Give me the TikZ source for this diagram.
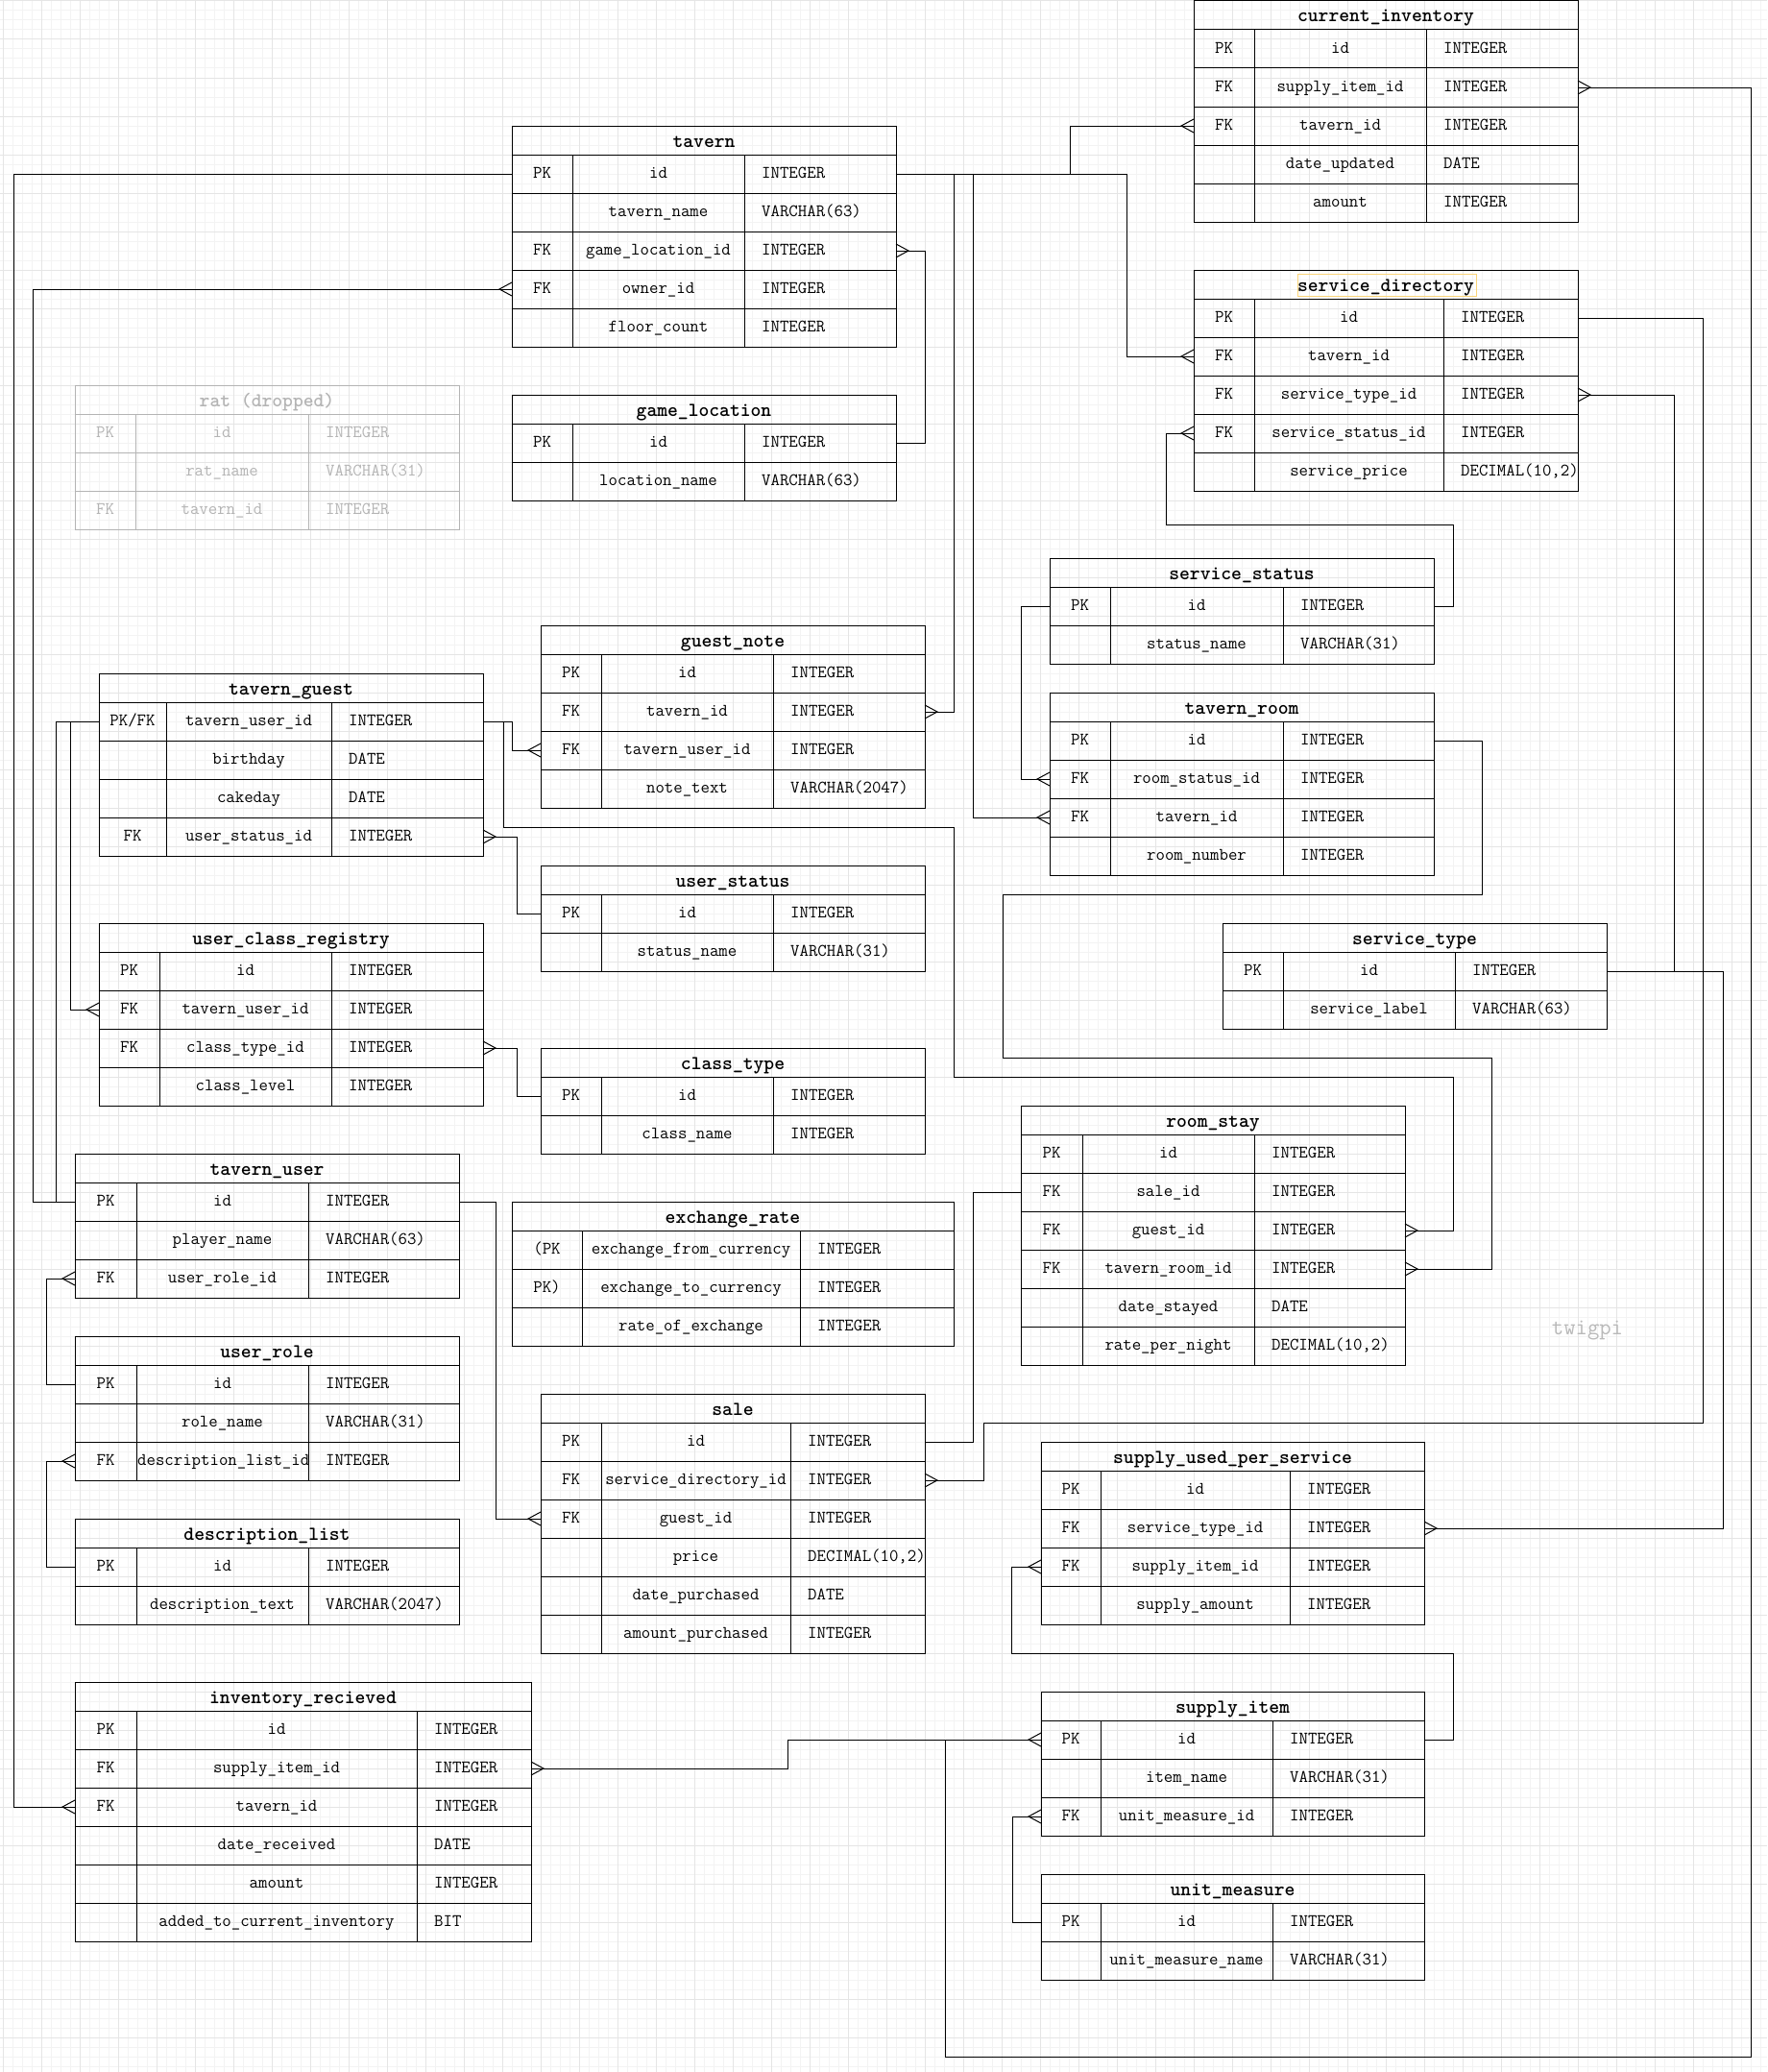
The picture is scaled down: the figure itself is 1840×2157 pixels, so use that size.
\documentclass[tikz,border=0pt]{standalone}
\usetikzlibrary{calc}

\definecolor{gridminor}{RGB}{243,243,243}
\definecolor{gridmajor}{RGB}{229,229,229}
\definecolor{ratgrey}{RGB}{180,180,180}
\definecolor{signgrey}{RGB}{185,185,185}
\definecolor{hilite}{RGB}{250,212,120}
\colorlet{tblc}{black}

\newcommand\bodyfont{\ttfamily\fontsize{18.3}{20}\selectfont}
\newcommand\titlefont{\ttfamily\bfseries\fontsize{20.6}{22}\selectfont}
\newcommand\pkopen{(PK}
\newcommand\pkclose{PK)}

\tikzset{
  tblline/.style={draw=tblc, line width=1pt},
  cell/.style={anchor=base, inner sep=0pt, text=tblc, font=\bodyfont},
  tabletitle/.style={anchor=base, inner sep=0pt, text=tblc, font=\titlefont},
  conn/.style={draw=black, line width=1pt},
  gmin/.style={draw=gridminor, line width=1pt},
  gmaj/.style={draw=gridmajor, line width=1pt},
}

% entity table: name, x0, x1, x2, x3 (column borders), top, title, rows key/name/type
\newcommand\ertable[8]{%
  \node[tabletitle] (#1) at ({(#2+#5)/2},#6+22) {#7};
  \draw[tblline] (#2,#6) rectangle (#5,#6+30);
  \foreach \colK/\colN/\colT [count=\ri] in {#8} {%
    \pgfmathsetmacro\rowtop{#6+30+40*(\ri-1)}%
    \pgfmathsetmacro\rowmid{\rowtop+20}%
    \draw[tblline] (#2,\rowtop) rectangle (#5,\rowtop+40);
    \draw[tblline] (#3,\rowtop) -- (#3,\rowtop+40) (#4,\rowtop) -- (#4,\rowtop+40);
    \node[cell] at ({(#2+#3)/2},\rowmid+4.5) {\colK};
    \node[cell] at ({(#3+#4)/2},\rowmid+4.5) {\colN};
    \node[cell,anchor=base west] at (#4+18,\rowmid+4.5) {\colT};
    \coordinate (#1-\ri-w) at (#2,\rowmid);
    \coordinate (#1-\ri-e) at (#5,\rowmid);
  }%
}

% crow's foot (many) at the left / right side of a table row
\newcommand\cfl[1]{\draw[conn] ($(#1)+(0,-7)$) -- ($(#1)+(-13,0)$) -- ($(#1)+(0,7)$);}
\newcommand\cfr[1]{\draw[conn] ($(#1)+(0,-7)$) -- ($(#1)+(13,0)$) -- ($(#1)+(0,7)$);}

\begin{document}
\begin{tikzpicture}[x=1pt,y=-1pt]
\useasboundingbox (0,0) rectangle (1840,2157);
\fill[white] (0,0) rectangle (1840,2157);

% background grid
\foreach \gx in {3,13,...,1833} \draw[gmin] (\gx,0) -- (\gx,2157);
\foreach \gy in {1,11,...,2151} \draw[gmin] (0,\gy) -- (1840,\gy);
\foreach \gx in {3,43,...,1803} \draw[gmaj] (\gx,0) -- (\gx,2157);
\foreach \gy in {1,41,...,2121} \draw[gmaj] (0,\gy) -- (1840,\gy);

% ---------------- tables ----------------
\ertable{ci}{1243}{1306}{1485}{1643}{1}{current\_inventory}{PK/id/INTEGER, FK/supply\_item\_id/INTEGER, FK/tavern\_id/INTEGER, {}/date\_updated/DATE, {}/amount/INTEGER}

\ertable{tavern}{533}{596}{775}{933}{131}{tavern}{PK/id/INTEGER, {}/tavern\_name/VARCHAR(63), FK/game\_location\_id/INTEGER, FK/owner\_id/INTEGER, {}/floor\_count/INTEGER}

\ertable{sd}{1243}{1306}{1503}{1643}{281}{service\_directory}{PK/id/INTEGER, FK/tavern\_id/INTEGER, FK/service\_type\_id/INTEGER, FK/service\_status\_id/INTEGER, {}/service\_price/{DECIMAL(10,2)}}
\draw[draw=hilite, line width=1pt] (1351,285) rectangle (1537,308);

\begingroup
\colorlet{tblc}{ratgrey}
\ertable{rat}{78}{141}{321}{478}{401}{rat (dropped)}{PK/id/INTEGER, {}/rat\_name/VARCHAR(31), FK/tavern\_id/INTEGER}
\endgroup

\ertable{gl}{533}{596}{775}{933}{411}{game\_location}{PK/id/INTEGER, {}/location\_name/VARCHAR(63)}

\ertable{ss}{1093}{1156}{1336}{1493}{581}{service\_status}{PK/id/INTEGER, {}/status\_name/VARCHAR(31)}

\ertable{gn}{563}{626}{805}{963}{651}{guest\_note}{PK/id/INTEGER, FK/tavern\_id/INTEGER, FK/tavern\_user\_id/INTEGER, {}/note\_text/VARCHAR(2047)}

\ertable{tg}{103}{173}{345}{503}{701}{tavern\_guest}{{PK/FK}/tavern\_user\_id/INTEGER, {}/birthday/DATE, {}/cakeday/DATE, FK/user\_status\_id/INTEGER}

\ertable{tr}{1093}{1156}{1336}{1493}{721}{tavern\_room}{PK/id/INTEGER, FK/room\_status\_id/INTEGER, FK/tavern\_id/INTEGER, {}/room\_number/INTEGER}

\ertable{us}{563}{626}{805}{963}{901}{user\_status}{PK/id/INTEGER, {}/status\_name/VARCHAR(31)}

\ertable{ucr}{103}{166}{345}{503}{961}{user\_class\_registry}{PK/id/INTEGER, FK/tavern\_user\_id/INTEGER, FK/class\_type\_id/INTEGER, {}/class\_level/INTEGER}

\ertable{st}{1273}{1336}{1515}{1673}{961}{service\_type}{PK/id/INTEGER, {}/service\_label/VARCHAR(63)}

\ertable{ct}{563}{626}{805}{963}{1091}{class\_type}{PK/id/INTEGER, {}/class\_name/INTEGER}

\ertable{rs}{1063}{1127}{1306}{1463}{1151}{room\_stay}{PK/id/INTEGER, FK/sale\_id/INTEGER, FK/guest\_id/INTEGER, FK/tavern\_room\_id/INTEGER, {}/date\_stayed/DATE, {}/rate\_per\_night/{DECIMAL(10,2)}}

\ertable{tu}{78}{142}{321}{478}{1201}{tavern\_user}{PK/id/INTEGER, {}/player\_name/VARCHAR(63), FK/user\_role\_id/INTEGER}

\ertable{er}{533}{606}{833}{993}{1251}{exchange\_rate}{\pkopen/exchange\_from\_currency/INTEGER, \pkclose/exchange\_to\_currency/INTEGER, {}/rate\_of\_exchange/INTEGER}

\ertable{ur}{78}{142}{321}{478}{1391}{user\_role}{PK/id/INTEGER, {}/role\_name/VARCHAR(31), FK/{}/INTEGER}
\begin{scope}
  \clip (142,1501) rectangle (321,1541);
  \node[cell,anchor=base west] at (143,1525.5) {description\_list\_id};
\end{scope}

\ertable{sale}{563}{626}{823}{963}{1451}{sale}{PK/id/INTEGER, FK/service\_directory\_id/INTEGER, FK/guest\_id/INTEGER, {}/price/{DECIMAL(10,2)}, {}/date\_purchased/DATE, {}/amount\_purchased/INTEGER}

\ertable{sups}{1084}{1146}{1343}{1483}{1501}{supply\_used\_per\_service}{PK/id/INTEGER, FK/service\_type\_id/INTEGER, FK/supply\_item\_id/INTEGER, {}/supply\_amount/INTEGER}

\ertable{dl}{78}{142}{321}{478}{1581}{description\_list}{PK/id/INTEGER, {}/description\_text/VARCHAR(2047)}

\ertable{ir}{78}{142}{434}{553}{1751}{inventory\_recieved}{PK/id/INTEGER, FK/supply\_item\_id/INTEGER, FK/tavern\_id/INTEGER, {}/date\_received/DATE, {}/amount/INTEGER, {}/added\_to\_current\_inventory/BIT}

\ertable{si}{1084}{1146}{1325}{1483}{1761}{supply\_item}{PK/id/INTEGER, {}/item\_name/VARCHAR(31), FK/unit\_measure\_id/INTEGER}

\ertable{um}{1084}{1146}{1325}{1483}{1951}{unit\_measure}{PK/id/INTEGER, {}/unit\_measure\_name/VARCHAR(31)}

\node[anchor=base, inner sep=0pt, text=signgrey, font=\ttfamily\fontsize{24}{26}\selectfont] (sign) at (1653,1389) {twigpi};

% ---------------- relationships ----------------
\draw[conn] (tavern-1-e) -- ++(181,0) |- (ci-3-w);
\draw[conn] (tavern-1-e) -- ++(240,0) |- (sd-2-w);
\draw[conn] (tavern-1-e) -- ++(60,0) |- (gn-2-e);
\draw[conn] (tavern-1-e) -- ++(80,0) |- (tr-3-w);
\draw[conn] (tavern-3-e) -- ++(30,0) |- (gl-1-e);
\draw[conn] (tu-1-w) -- ++(-44,0) |- (tavern-4-w);
\draw[conn] (tavern-1-w) -- ++(-519,0) |- (ir-3-w);
\draw[conn] (tu-1-w) -- ++(-20,0) |- (tg-1-w);
\draw[conn] (tg-1-w) -- ++(-30,0) |- (ucr-2-w);
\draw[conn] (tg-1-e) -- ++(30,0) |- (gn-3-w);
\draw[conn] (tg-1-e) -- ++(21,0) -- ++(0,110) -- ++(469,0) -- ++(0,260) -- ++(520,0) |- (rs-3-e);
\draw[conn] (tg-4-e) -- ++(35,0) |- (us-1-w);
\draw[conn] (ucr-3-e) -- ++(35,0) |- (ct-1-w);
\draw[conn] (tu-1-e) -- ++(38,0) |- (sale-3-w);
\draw[conn] (tu-3-w) -- ++(-30,0) |- (ur-1-w);
\draw[conn] (ur-3-w) -- ++(-30,0) |- (dl-1-w);
\draw[conn] (sale-1-e) -- ++(50,0) |- (rs-2-w);
\draw[conn] (sale-2-e) -- ++(61,0) -- ++(0,-60) -- ++(749,0) |- (sd-1-e);
\draw[conn] (sd-3-e) -- ++(100,0) |- (st-1-e);
\draw[conn] (st-1-e) -- ++(121,0) |- (sups-2-e);
\draw[conn] (ss-1-e) -- ++(20,0) -- ++(0,-85) -- ++(-299,0) |- (sd-4-w);
\draw[conn] (ss-1-w) -- ++(-30,0) |- (tr-2-w);
\draw[conn] (tr-1-e) -- ++(50,0) -- ++(0,160) -- ++(-499,0) -- ++(0,170) -- ++(509,0) |- (rs-4-e);
\draw[conn] (si-1-w) -- ++(-264,0) |- (ir-2-e);
\draw[conn] (si-1-w) -- ++(-100,0) -- ++(0,330) -- ++(839,0) |- (ci-2-e);
\draw[conn] (si-1-e) -- ++(30,0) -- ++(0,-90) -- ++(-460,0) |- (sups-3-w);
\draw[conn] (um-1-w) -- ++(-30,0) |- (si-3-w);

% crow's feet
\cfl{ci-3-w} \cfr{ci-2-e}
\cfl{sd-2-w} \cfl{sd-4-w} \cfr{sd-3-e}
\cfr{tavern-3-e} \cfl{tavern-4-w}
\cfr{gn-2-e} \cfl{gn-3-w}
\cfl{tr-2-w} \cfl{tr-3-w}
\cfr{tg-4-e}
\cfl{ucr-2-w} \cfr{ucr-3-e}
\cfl{tu-3-w} \cfl{ur-3-w}
\cfr{sale-2-e} \cfl{sale-3-w}
\cfr{rs-3-e} \cfr{rs-4-e}
\cfr{sups-2-e} \cfl{sups-3-w}
\cfl{si-1-w} \cfl{si-3-w}
\cfr{ir-2-e} \cfl{ir-3-w}
\end{tikzpicture}
\end{document}
